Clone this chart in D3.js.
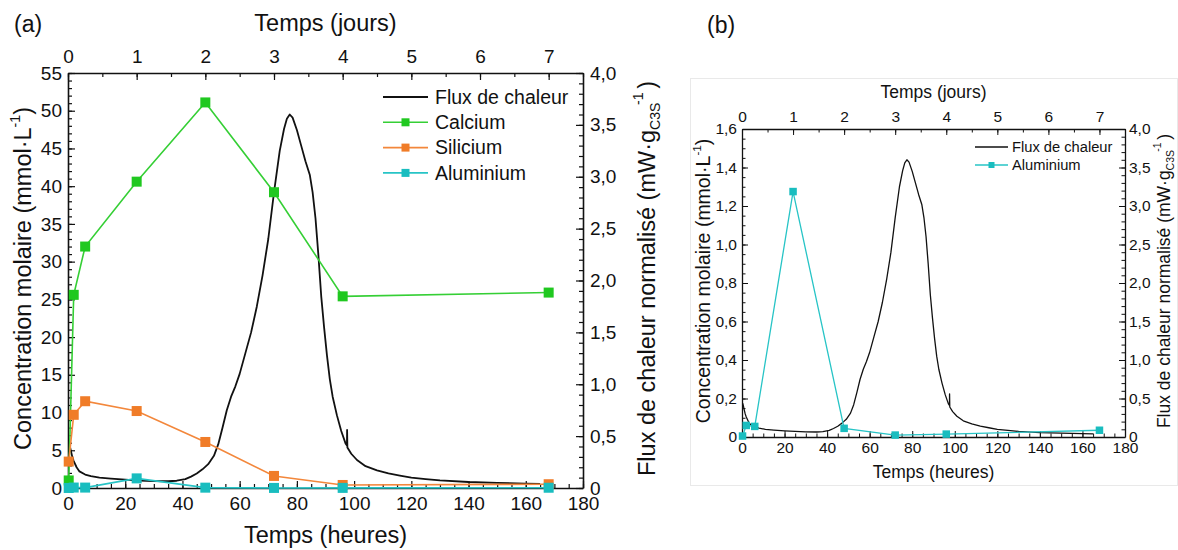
<!DOCTYPE html>
<html><head><meta charset="utf-8">
<script src="https://cdn.jsdelivr.net/npm/d3@7"></script>
<style>
body{margin:0;background:#fff}
svg{display:block}
text{font-family:"Liberation Sans",Arial,sans-serif;fill:#111}
</style>
</head><body>
<svg id="c" width="1178" height="550"></svg>
<script>
// ---------------- DATA ----------------
const sampleHours = [0.25, 2, 6, 24, 48, 72, 96, 168];
const calcium   = [1.0, 25.6, 32.0, 40.6, 51.1, 39.2, 25.4, 25.9];
const silicium  = [3.5, 9.7, 11.5, 10.2, 6.1, 1.6, 0.4, 0.5];
const aluminium = [0.005, 0.06, 0.055, 1.275, 0.045, 0.01, 0.015, 0.035];

const heatTime = [0.3,0.6,1,1.5,2,3,4,6,8,11,15,20,25,30,35,38,41,43,45,47,49,51,52.5,54,55.5,57,58.5,60,62,64,66,68,70,72,74,75.5,76.5,77.5,78.5,80,81.5,83,84.5,85.5,86.5,87.5,88.5,89.5,90.5,91.5,92.5,94,95.5,97,97.5,97.55,97.65,99,101,104,108,112,116,120,125,130,140,150,160,165];
const heatFlux = [0.44,0.41,0.36,0.3,0.26,0.2,0.16,0.13,0.115,0.1,0.09,0.08,0.072,0.066,0.065,0.07,0.085,0.11,0.14,0.18,0.23,0.31,0.42,0.58,0.75,0.88,0.98,1.1,1.3,1.5,1.75,2.05,2.4,2.85,3.25,3.46,3.56,3.6,3.57,3.45,3.3,3.15,3.02,2.85,2.6,2.25,1.85,1.55,1.28,1.05,0.88,0.7,0.55,0.43,0.41,0.56,0.39,0.33,0.27,0.21,0.17,0.14,0.12,0.1,0.085,0.073,0.058,0.05,0.043,0.04];

const hourTicks = [0,20,40,60,80,100,120,140,160,180];
const dayTicks = [0,1,2,3,4,5,6,7];
const leftTicksA = [0,5,10,15,20,25,30,35,40,45,50,55];
const leftTicksB = [0,0.2,0.4,0.6,0.8,1.0,1.2,1.4,1.6];
const rightTicks = [0,0.5,1.0,1.5,2.0,2.5,3.0,3.5,4.0];

const colBlack = "#111111";
const colCa = "#35cf35", colCaM = "#20c820";
const colSi = "#f3873b", colSiM = "#f07c28";
const colAl = "#27c4c6", colAlM = "#19bdbf";

// ---------------- DRAW ----------------
const svg = d3.select("#c");
svg.append("rect").attr("x",690.5).attr("y",78.5).attr("width",487).attr("height",407)
  .attr("fill","none").attr("stroke","#e9e9e9");

const fmtComma = d => d === 0 ? "0" : d3.format(".1f")(d).replace(".", ",");

function panel(o){
  const g = svg.append("g");
  const x  = d3.scaleLinear().domain([0,180]).range([o.x0,o.x1]);
  const xd = d3.scaleLinear().domain([0,7.5]).range([o.x0,o.x1]);
  const yl = d3.scaleLinear().domain([0,o.lmax]).range([o.y0,o.y1]);
  const yr = d3.scaleLinear().domain([0,4]).range([o.y0,o.y1]);

  function styleAxis(sel, fs){
    sel.attr("font-size", fs).attr("font-family", null);
    sel.selectAll("line").attr("stroke", colBlack).attr("stroke-width", o.tw);
    sel.selectAll("path.domain").attr("stroke", colBlack).attr("stroke-width", o.aw);
    sel.selectAll("text").attr("fill", colBlack);
  }
  function minor(axisGen, transform){
    const m = g.append("g").attr("transform", transform).call(axisGen);
    m.select("path.domain").remove();
    m.selectAll("line").attr("stroke", colBlack).attr("stroke-width", o.tw);
  }

  // minor ticks
  minor(d3.axisBottom(x).tickValues(d3.range(0,181,5)).tickSize(-o.minor).tickFormat(""), `translate(0,${o.y0})`);
  minor(d3.axisTop(xd).tickValues(d3.range(0,7.51,0.5)).tickSize(-o.minor).tickFormat(""), `translate(0,${o.y1})`);
  minor(d3.axisLeft(yl).tickValues(d3.range(0,o.lmax+1e-9,o.lminor)).tickSize(-o.minor).tickFormat(""), `translate(${o.x0},0)`);
  minor(d3.axisRight(yr).tickValues(d3.range(0,4.001,0.1)).tickSize(-o.minor).tickFormat(""), `translate(${o.x1},0)`);

  // major axes
  g.append("g").attr("transform",`translate(0,${o.y0})`)
    .call(d3.axisBottom(x).tickValues(hourTicks).tickSize(-o.major).tickSizeOuter(0).tickPadding(o.padB).tickFormat(d3.format("d")))
    .call(s=>styleAxis(s,o.tickFs));
  g.append("g").attr("transform",`translate(0,${o.y1})`)
    .call(d3.axisTop(xd).tickValues(dayTicks).tickSize(-o.major).tickSizeOuter(0).tickPadding(o.padT).tickFormat(d3.format("d")))
    .call(s=>styleAxis(s,o.tickFs));
  g.append("g").attr("transform",`translate(${o.x0},0)`)
    .call(d3.axisLeft(yl).tickValues(o.lticks).tickSize(-o.major).tickSizeOuter(0).tickPadding(o.padL).tickFormat(o.lfmt))
    .call(s=>styleAxis(s,o.tickFs));
  g.append("g").attr("transform",`translate(${o.x1},0)`)
    .call(d3.axisRight(yr).tickValues(rightTicks).tickSize(-o.major).tickSizeOuter(0).tickPadding(o.padR).tickFormat(fmtComma))
    .call(s=>styleAxis(s,o.tickFs));

  // heat flux curve
  const heat = heatTime.map((t,i)=>[t, heatFlux[i]]);
  g.append("path").datum(heat)
    .attr("fill","none").attr("stroke",colBlack).attr("stroke-width",o.hw).attr("stroke-linejoin","round")
    .attr("d", d3.line().x(d=>x(d[0])).y(d=>yr(d[1])));

  // concentration series
  o.series.forEach(s=>{
    const pts = sampleHours.map((t,i)=>[t, s.values[i]]);
    g.append("path").datum(pts)
      .attr("fill","none").attr("stroke",s.color).attr("stroke-width",o.lw)
      .attr("d", d3.line().x(d=>x(d[0])).y(d=>yl(d[1])));
    g.append("g").selectAll("rect").data(pts).join("rect")
      .attr("x", d=>x(d[0])-o.ms/2).attr("y", d=>yl(d[1])-o.ms/2)
      .attr("width",o.ms).attr("height",o.ms).attr("fill",s.mcolor);
  });

  // legend
  const items = [{name:"Flux de chaleur", color:colBlack, marker:null}]
    .concat(o.series.map(s=>({name:s.name, color:s.color, marker:s.mcolor})));
  items.forEach((it,i)=>{
    const yy = o.legY + i*o.legDy;
    g.append("line").attr("x1",o.legX0).attr("x2",o.legX1).attr("y1",yy).attr("y2",yy)
      .attr("stroke",it.color).attr("stroke-width", it.marker? o.lw : o.hw);
    if(it.marker){
      const cx=(o.legX0+o.legX1)/2;
      g.append("rect").attr("x",cx-o.lms/2).attr("y",yy-o.lms/2).attr("width",o.lms).attr("height",o.lms).attr("fill",it.marker);
    }
    g.append("text").attr("x",o.legTx).attr("y",yy).attr("dy","0.35em")
      .attr("font-size",o.legFs).text(it.name);
  });

  // titles
  const cx = (o.x0+o.x1)/2, cy = (o.y0+o.y1)/2 - 2;
  g.append("text").attr("x",o.labX).attr("y",o.labY).attr("font-size",o.labFs).text(o.label);
  g.append("text").attr("x",cx).attr("y",o.topTitleY).attr("text-anchor","middle").attr("font-size",o.titleFsT).text("Temps (jours)");
  g.append("text").attr("x",cx).attr("y",o.botTitleY).attr("text-anchor","middle").attr("font-size",o.titleFs).text("Temps (heures)");

  const lfs = o.leftTitleFs;
  const lt = g.append("text").attr("transform",`translate(${o.leftTitleX},${cy}) rotate(-90)`)
    .attr("text-anchor","middle").attr("font-size",lfs);
  lt.append("tspan").text("Concentration molaire (mmol·L");
  lt.append("tspan").attr("font-size",lfs*0.6).attr("dy",-lfs*0.45).text("-1");
  lt.append("tspan").attr("dy",lfs*0.45).text(")");

  const fs = o.titleFs;
  const rt = g.append("text").attr("transform",`translate(${o.rightTitleX},${cy}) rotate(-90)`)
    .attr("text-anchor","middle").attr("font-size",fs);
  rt.append("tspan").text("Flux de chaleur normalisé (mW·g");
  rt.append("tspan").attr("font-size",fs*0.6).attr("dy",fs*0.22).text("C3S");
  rt.append("tspan").attr("font-size",fs*0.6).attr("dy",-fs*0.72).attr("dx",-fs*0.1).text("-1");
  rt.append("tspan").attr("dy",fs*0.5).attr("dx",fs*0.15).text(")");
}

panel({
  label:"(a)", labX:14, labY:32, labFs:23,
  x0:68, x1:583, y0:488, y1:73, lmax:55, lminor:1,
  lticks:leftTicksA, lfmt:d3.format("d"),
  major:7, minor:4, tw:1.2, aw:1.6,
  tickFs:19, padB:9, padT:10, padL:6, padR:7,
  titleFs:23.5, titleFsT:23.5, leftTitleFs:23.5, topTitleY:31, botTitleY:543,
  leftTitleX:31, rightTitleX:655,
  lw:1.6, hw:1.8, ms:10,
  legX0:383, legX1:428, legTx:435, legY:97, legDy:25.3, legFs:19.5, lms:8,
  series:[
    {name:"Calcium", values:calcium, color:colCa, mcolor:colCaM},
    {name:"Silicium", values:silicium, color:colSi, mcolor:colSiM},
    {name:"Aluminium", values:aluminium, color:colAl, mcolor:colAlM}
  ]
});

panel({
  label:"(b)", labX:707, labY:33, labFs:23,
  x0:742, x1:1125, y0:437, y1:129, lmax:1.6, lminor:0.05,
  lticks:leftTicksB, lfmt:fmtComma,
  major:6, minor:3.5, tw:1, aw:1.3,
  tickFs:15.5, padB:5, padT:7, padL:5, padR:4,
  titleFs:17.5, titleFsT:17.5, leftTitleFs:19.5, topTitleY:98, botTitleY:478,
  leftTitleX:710, rightTitleX:1170,
  lw:1.3, hw:1.3, ms:7.5,
  legX0:975, legX1:1008, legTx:1012, legY:147, legDy:18, legFs:14.7, lms:6,
  series:[
    {name:"Aluminium", values:aluminium, color:colAl, mcolor:colAlM}
  ]
});
</script>
</body></html>
